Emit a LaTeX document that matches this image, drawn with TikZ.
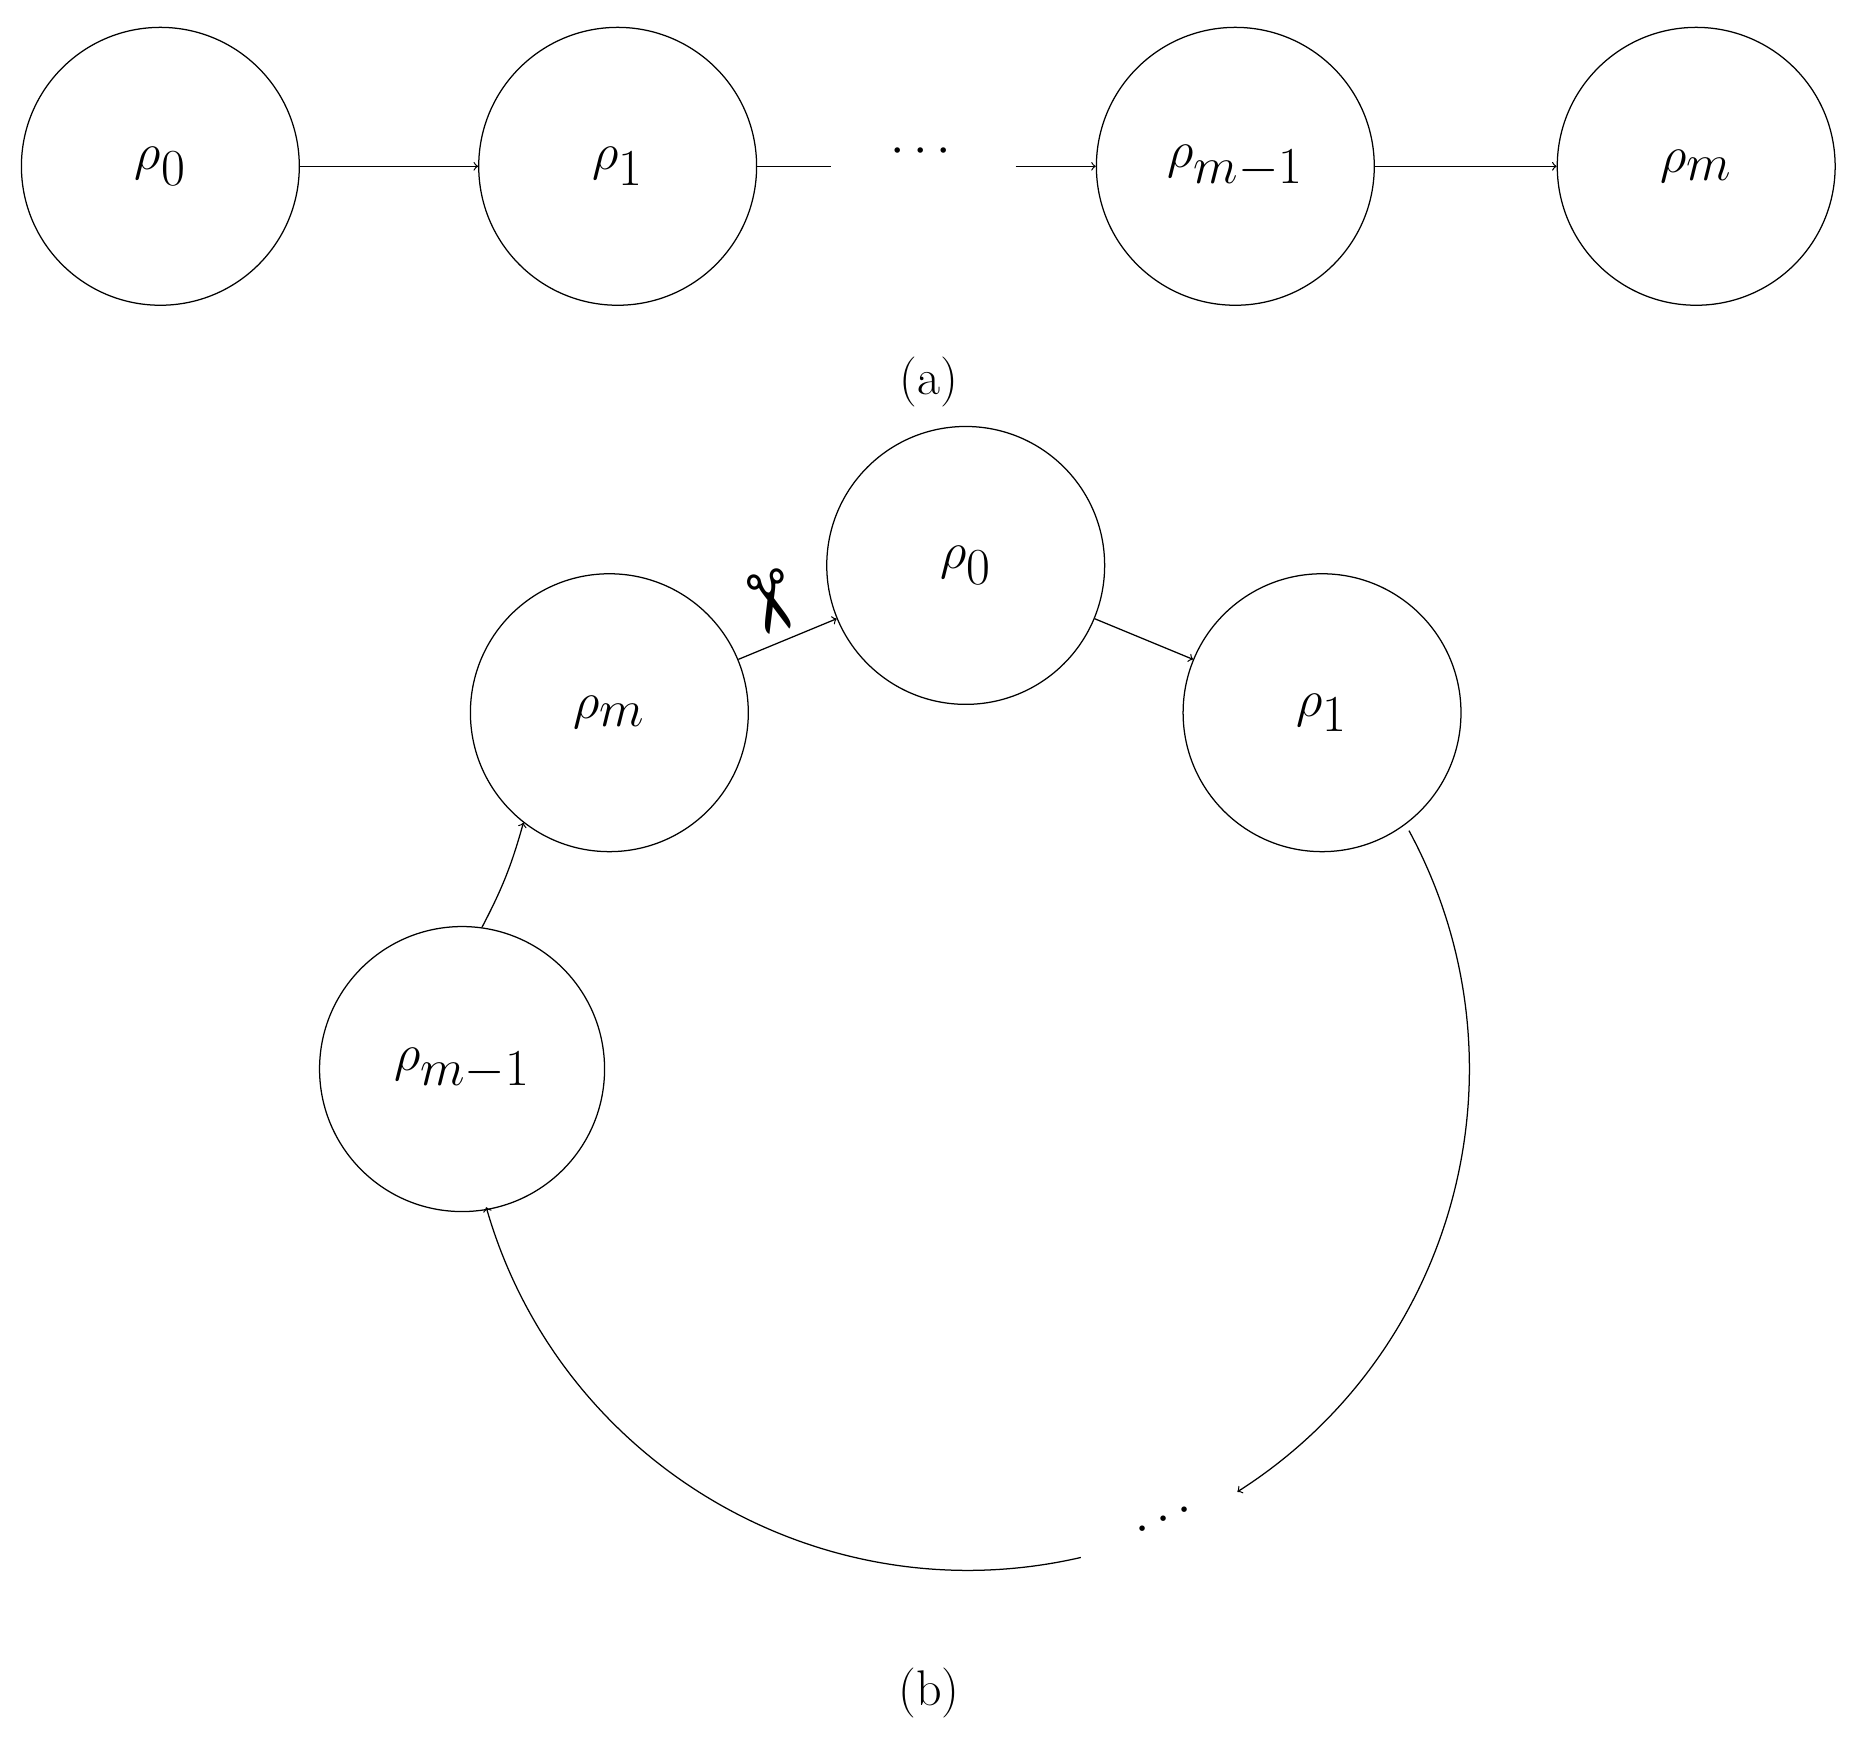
\documentclass[tikz,border=0pt]{standalone}
\usepackage{fontspec}
\newfontfamily\dingfont{DejaVu Sans}
\begin{document}
\begin{tikzpicture}[x=0.02cm,y=-0.02cm,line width=0.6pt,
  st/.style={circle,draw,minimum size=4.68cm,inner sep=0pt,font=\fontsize{44}{50}\selectfont},
  lab/.style={font=\fontsize{24}{28}\selectfont},
  ar/.style={->,>=to}]
\useasboundingbox (0,0) rectangle (1560,1472);
% (a)
\node[st] (a0) at (135,140) {$\rho_0$};
\node[st] (a1) at (520,140) {$\rho_1$};
\node[st] (a2) at (1040,140) {$\rho_{m-1}$};
\node[st] (a3) at (1428,140) {$\rho_m$};
\node[font=\fontsize{40}{46}\selectfont] (ad) at (775,128) {$\cdots$};
\coordinate (l1) at (700,140);
\coordinate (l2) at (855,140);
\draw[ar] (a0) -- (a1);
\draw (a1) -- (l1);
\draw[ar] (l2) -- (a2);
\draw[ar] (a2) -- (a3);
\node[lab] (la) at (782,322) {(a)};
% (b)
\node[st] (b0) at (813,476) {$\rho_0$};
\node[st] (bm) at (513,600) {$\rho_m$};
\node[st] (b1) at (1113,600) {$\rho_1$};
\node[st,minimum size=4.8cm] (bm1) at (389,900) {$\rho_{m-1}$};
\node[font=\fontsize{40}{46}\selectfont,rotate=25] (bd) at (980,1280) {$\cdots$};
\node[lab] (lb) at (782,1425) {(b)};
\draw[ar] (bm) -- (b0);
\draw[ar] (b0) -- (b1);
\draw[ar] (bm1.82) to[bend right=6] (bm.232);
\draw[ar] (815,900) ++(-28.4:422) arc[start angle=-28.4,end angle=57.5,radius=422];
\draw[ar] (815,900) ++(77:422) arc[start angle=77,end angle=164,radius=422];
\node[rotate=-75,font=\dingfont\fontsize{40}{40}\selectfont] (sc) at (645,508) {✂};
\end{tikzpicture}
\end{document}
